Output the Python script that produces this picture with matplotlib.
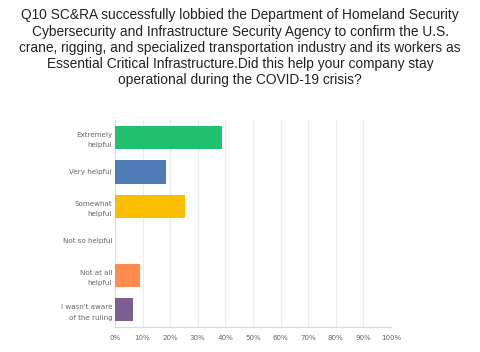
import matplotlib
matplotlib.use("Agg")
import matplotlib.pyplot as plt

title = ("Q10 SC&RA successfully lobbied the Department of Homeland Security\n"
         "Cybersecurity and Infrastructure Security Agency to confirm the U.S.\n"
         "crane, rigging, and specialized transportation industry and its workers as\n"
         "Essential Critical Infrastructure.Did this help your company stay\n"
         "operational during the COVID-19 crisis?")
categories = ["Extremely\nhelpful", "Very helpful", "Somewhat\nhelpful",
              "Not so helpful", "Not at all\nhelpful", "I wasn't aware\nof the ruling"]
values = [38.9, 18.5, 25.4, 0.0, 9.1, 6.4]
colors = ["#1fc06e", "#507cb6", "#f9be00", "#6bc8cd", "#ff8b4f", "#7d5e90"]
xticks = list(range(0, 101, 10))
xticklabels = [f"{t}%" for t in xticks]

fig = plt.figure(figsize=(4.8, 3.52), dpi=100)
fig.text(0.5, 0.976, title, ha="center", va="top", fontsize=9.9,
         family="Liberation Sans", color="#222222", linespacing=1.2)

ax = fig.add_axes([0.2396, 0.071, 0.575, 0.588])
pos = list(range(len(categories)))
ax.barh(pos, values, height=0.68, color=colors, zorder=3)
ax.set_ylim(len(categories) - 0.5, -0.5)
ax.set_xlim(0, 100)
ax.set_yticks(pos)
ax.set_yticklabels(categories, fontsize=5.1, color="#666666", linespacing=1.9)
ax.set_xticks(xticks)
ax.set_xticklabels(xticklabels, fontsize=5.1, color="#666666")
ax.tick_params(length=0, pad=2)
ax.tick_params(axis="x", pad=6)
ax.grid(axis="x", color="#ececec", linewidth=0.8, zorder=0)
for s in ["top", "right"]:
    ax.spines[s].set_visible(False)
for s in ["left", "bottom"]:
    ax.spines[s].set_color("#d9d9d9")
    ax.spines[s].set_linewidth(0.8)

fig.savefig("out.png", dpi=100)
